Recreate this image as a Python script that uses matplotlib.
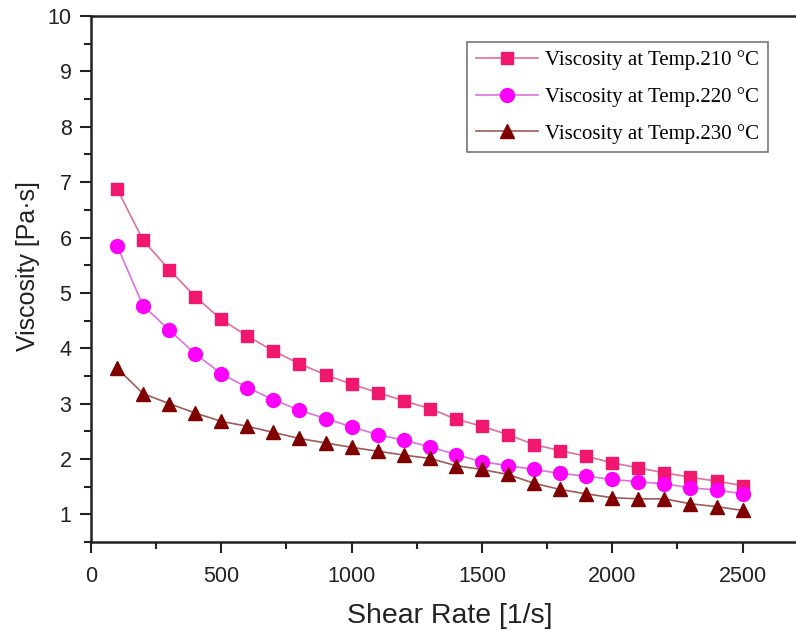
import numpy as np
import matplotlib.pyplot as plt
from matplotlib.ticker import MultipleLocator

shear = [100, 200, 300, 400, 500, 600, 700, 800, 900, 1000, 1100, 1200, 1300,
         1400, 1500, 1600, 1700, 1800, 1900, 2000, 2100, 2200, 2300, 2400, 2500]
visc_210 = [6.88, 5.95, 5.42, 4.93, 4.52, 4.22, 3.95, 3.72, 3.52, 3.35, 3.20, 3.05, 2.91,
            2.72, 2.59, 2.44, 2.26, 2.15, 2.05, 1.93, 1.84, 1.75, 1.67, 1.60, 1.52]
visc_220 = [5.85, 4.77, 4.33, 3.90, 3.54, 3.29, 3.07, 2.88, 2.73, 2.58, 2.44, 2.34, 2.22,
            2.08, 1.95, 1.88, 1.81, 1.74, 1.69, 1.63, 1.59, 1.55, 1.48, 1.44, 1.37]
visc_230 = [3.64, 3.18, 3.00, 2.83, 2.68, 2.59, 2.48, 2.37, 2.29, 2.21, 2.14, 2.07, 2.01,
            1.88, 1.81, 1.72, 1.56, 1.45, 1.37, 1.30, 1.28, 1.28, 1.19, 1.14, 1.07]
labels = ['Viscosity at Temp.210 °C', 'Viscosity at Temp.220 °C', 'Viscosity at Temp.230 °C']

plt.rcParams['font.family'] = ['Liberation Sans', 'DejaVu Sans']

fig = plt.figure(figsize=(7.96, 6.31), dpi=100)
ax = fig.add_axes([0.1143, 0.141, 1 - 0.1143, 0.9746 - 0.141])

ax.plot(shear, visc_210, '-', color='#e0709c', lw=1.2, marker='s', ms=9,
        mfc='#f0186e', mec='#f0186e', label=labels[0])
ax.plot(shear, visc_220, '-', color='#e070e0', lw=1.2, marker='o', ms=10,
        mfc='#ff00ff', mec='#ff00ff', label=labels[1])
ax.plot(shear, visc_230, '-', color='#a05a5a', lw=1.2, marker='^', ms=10,
        mfc='#800000', mec='#800000', label=labels[2])

ax.set_xlim(0, 2705)
ax.set_ylim(0.5, 10)
ax.xaxis.set_major_locator(MultipleLocator(500))
ax.xaxis.set_minor_locator(MultipleLocator(250))
ax.yaxis.set_major_locator(MultipleLocator(1))
ax.yaxis.set_minor_locator(MultipleLocator(0.5))
ax.tick_params(which='both', direction='out', width=1.5, colors='#222222', labelsize=15.5)
ax.tick_params(which='major', length=8)
ax.tick_params(which='minor', length=5)
ax.tick_params(axis='x', pad=9)
ax.tick_params(axis='y', pad=6)
ax.spines['right'].set_visible(False)
for s in ['left', 'bottom', 'top']:
    ax.spines[s].set_linewidth(1.8)
    ax.spines[s].set_color('#222222')

ax.set_xlabel('Shear Rate [1/s]', fontsize=20.5, color='#222222', va='center')
ax.set_ylabel('Viscosity [Pa·s]', fontsize=18, color='#222222', va='center')
ax.xaxis.set_label_coords(0.509, -0.14)
ax.yaxis.set_label_coords(-0.089, 0.525)

leg = ax.legend(loc='upper left', bbox_to_anchor=(0.533, 0.951), frameon=True, fancybox=False,
                edgecolor='#555555', prop={'family': 'Liberation Serif', 'size': 15},
                handlelength=3.0, handletextpad=0.35, borderpad=0.42, labelspacing=0.8,
                borderaxespad=0)
leg.get_frame().set_linewidth(1.2)

fig.savefig('out.png', dpi=100)
